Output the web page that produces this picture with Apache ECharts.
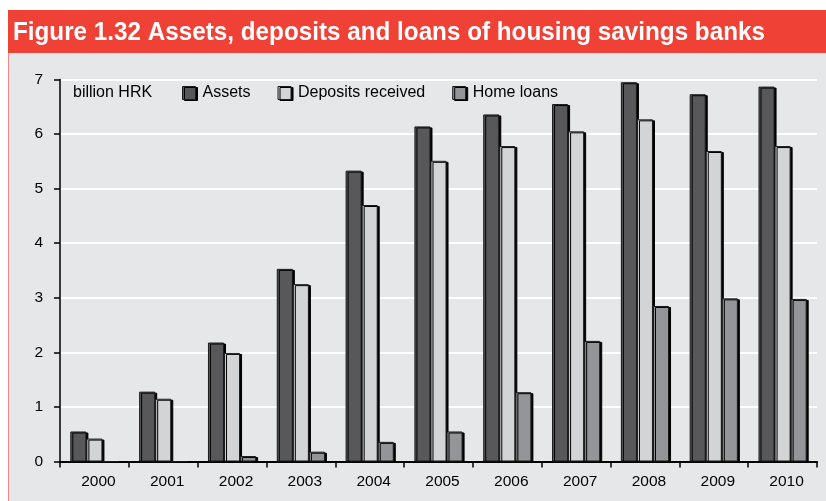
<!DOCTYPE html>
<html>
<head>
<meta charset="utf-8">
<script src="https://cdn.jsdelivr.net/npm/echarts@6/dist/echarts.min.js"></script>
<style>
  html, body { margin: 0; padding: 0; background: #ffffff; }
  #chart { width: 826px; height: 501px; }
</style>
</head>
<body>
<div id="chart"></div>
<script>
// Housing savings banks, billion HRK
const years = ['2000', '2001', '2002', '2003', '2004', '2005', '2006', '2007', '2008', '2009', '2010'];
const assets = [0.55, 1.28, 2.18, 3.53, 5.33, 6.14, 6.36, 6.55, 6.95, 6.73, 6.87];
const depositsReceived = [0.42, 1.15, 1.99, 3.25, 4.70, 5.51, 5.78, 6.05, 6.27, 5.69, 5.78];
const homeLoans = [0, 0, 0.10, 0.18, 0.36, 0.55, 1.27, 2.21, 2.85, 2.99, 2.98];
const yTicks = { min: 0, max: 7, interval: 1 };

const FONT = '"Liberation Sans", Arial, sans-serif';

const chart = echarts.init(document.getElementById('chart'), null, { renderer: 'canvas' });

function barStyle(color) {
  return {
    color: color,
    borderColor: '#1a1a1a',
    borderWidth: 1,
    shadowColor: '#000000',
    shadowBlur: 0,
    shadowOffsetX: 2,
    shadowOffsetY: 1
  };
}

function makeSeries(name, data, color) {
  return {
    name: name,
    type: 'bar',
    data: data,
    barGap: '0%',
    barCategoryGap: '30%',
    itemStyle: barStyle(color),
    emphasis: { disabled: true },
    animation: false
  };
}

chart.setOption({
  animation: false,
  backgroundColor: '#ffffff',
  textStyle: { fontFamily: FONT },
  graphic: [
    // panel background with thin left rule
    { type: 'rect', left: 8, top: 53, shape: { width: 818, height: 448 }, style: { fill: '#e6e7e8' }, z: -10 },
    { type: 'rect', left: 8, top: 53, shape: { width: 1, height: 448 }, style: { fill: '#f08a84' }, z: -9 },
    // title bar
    { type: 'rect', left: 8, top: 10, shape: { width: 818, height: 43 }, style: { fill: '#ef4136' }, z: -9 },
    {
      type: 'text', x: 13, y: 33, z: 10,
      scaleX: 0.97,
      style: {
        text: 'Figure 1.32 Assets, deposits and loans of housing savings banks',
        fill: '#ffffff',
        font: 'bold 25px ' + FONT,
        verticalAlign: 'middle',
        align: 'left'
      }
    },
    {
      type: 'text', left: 73, top: 85, z: 10,
      style: { text: 'billion HRK', fill: '#000000', font: '16px ' + FONT }
    }
  ],
  legend: {
    left: 182,
    top: 85,
    padding: 0,
    itemWidth: 13,
    itemHeight: 13,
    itemGap: 27,
    icon: 'rect',
    textStyle: { fontSize: 16, color: '#000000', fontFamily: FONT, padding: [0, 0, 0, 2] },
    data: [
      { name: 'Assets', itemStyle: barStyle('#58585a') },
      { name: 'Deposits received', itemStyle: barStyle('#d3d4d6') },
      { name: 'Home loans', itemStyle: barStyle('#949598') }
    ]
  },
  grid: { left: 60, right: 9, top: 79.5, bottom: 39.5, containLabel: false },
  xAxis: {
    type: 'category',
    data: years,
    boundaryGap: true,
    axisLine: { show: true, lineStyle: { color: '#000000', width: 2 } },
    axisTick: { show: true, length: 6, interval: 0, lineStyle: { color: '#000000', width: 1.5 } },
    axisLabel: { color: '#000000', fontSize: 15.5, margin: 12, fontFamily: FONT, interval: 0, padding: [0, 0, 0, 8] },
    splitLine: { show: false }
  },
  yAxis: {
    type: 'value',
    min: yTicks.min,
    max: yTicks.max,
    interval: yTicks.interval,
    axisLine: { show: true, lineStyle: { color: '#000000', width: 1.5 } },
    axisTick: { show: true, length: 6, lineStyle: { color: '#000000', width: 1.5 } },
    axisLabel: { color: '#000000', fontSize: 15.5, margin: 17, fontFamily: FONT },
    splitLine: { show: true, lineStyle: { color: '#ffffff', width: 2 } }
  },
  series: [
    makeSeries('Assets', assets, '#58585a'),
    makeSeries('Deposits received', depositsReceived, '#d3d4d6'),
    makeSeries('Home loans', homeLoans, '#949598')
  ]
});
</script>
</body>
</html>
